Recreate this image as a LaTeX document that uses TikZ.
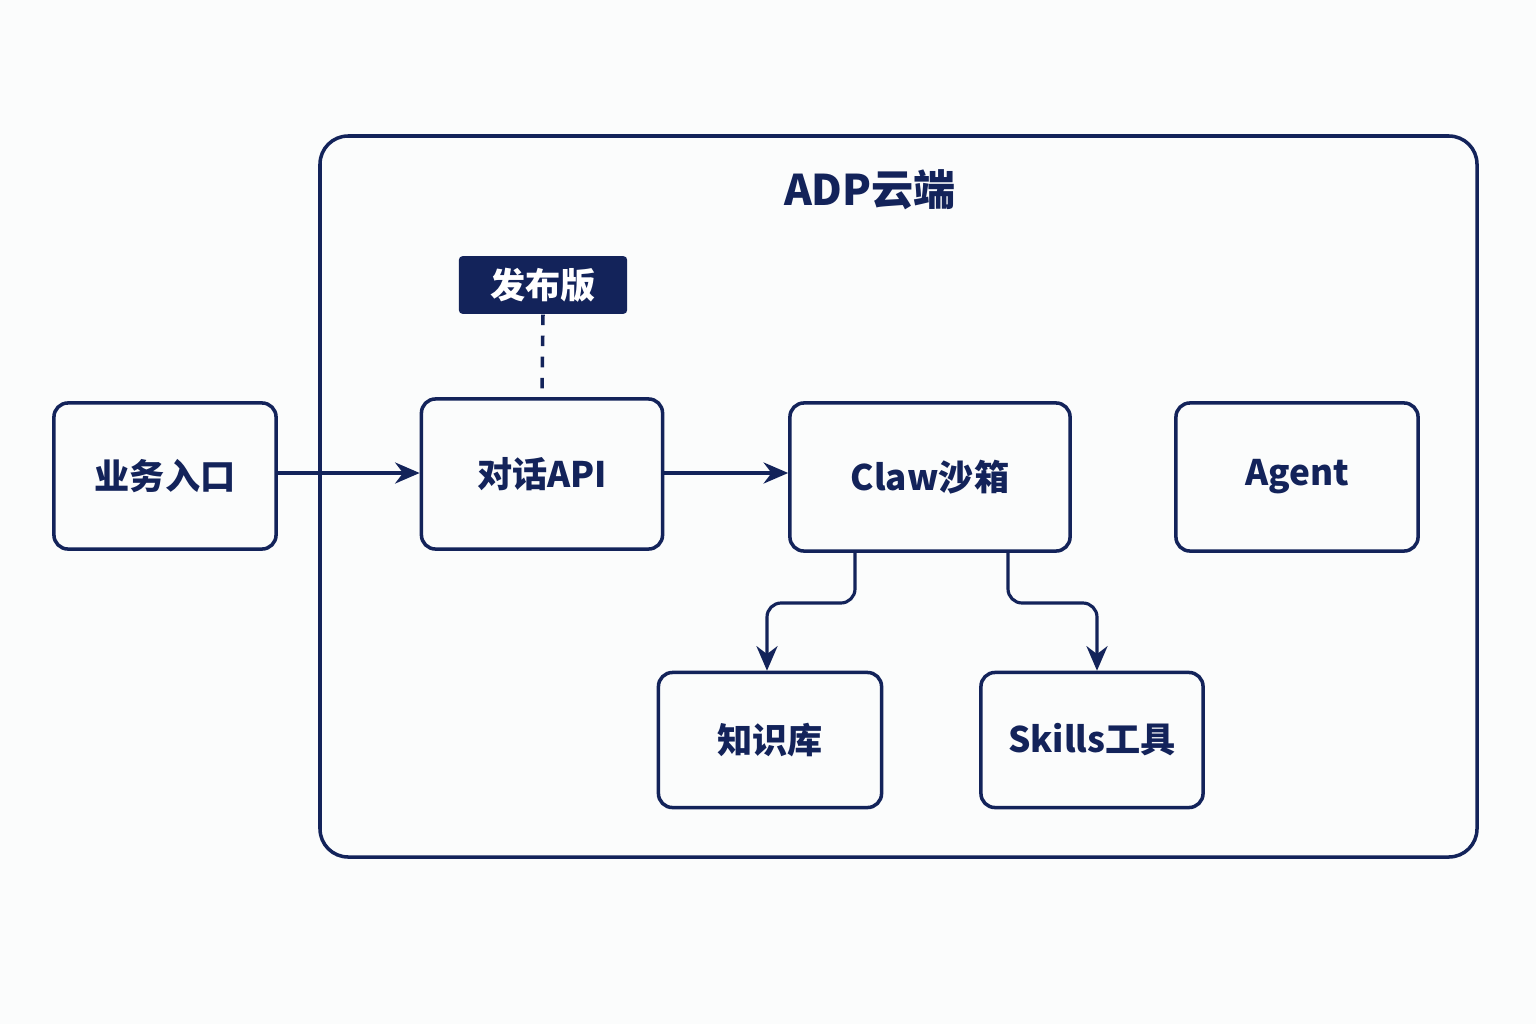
\documentclass[tikz,border=0pt]{standalone}
\usepackage{fontspec}
\setmainfont{Noto Sans CJK SC}
\usetikzlibrary{arrows.meta, positioning}
\definecolor{navy}{HTML}{13235A}

\begin{document}
\begin{tikzpicture}[x=0.01cm, y=-0.01cm]
      \tikzset{box/.style = {draw=navy, line width=1pt, rounded corners=4pt, text=navy, font=\fontsize{10pt}{12pt}\selectfont\bfseries, minimum height=1.46cm}}
      \tikzset{edge/.style = {draw=navy, line width=0.9pt, -{Stealth[length=7pt,width=6pt]}, rounded corners=4pt}}
      \fill[white!98.5!navy] (0,0) rectangle (1536,1024);
      \useasboundingbox (0,0) rectangle (1536,1024);

      \draw[draw=navy, line width=1pt, rounded corners=8pt] (320,136) rectangle (1477,857);
      \node[text=navy, font=\fontsize{12pt}{14pt}\selectfont\bfseries] (title) at (870,190) {ADP云端};

      \node[box, minimum width=2.22cm] (entry) at (165,476) {业务入口};
      \node[box, minimum width=2.41cm, minimum height=1.5cm] (api) at (542,474) {对话API};
      \node[box, minimum width=2.80cm, minimum height=1.48cm] (claw) at (930,477) {Claw沙箱};
      \node[box, minimum width=2.42cm, minimum height=1.48cm] (agent) at (1297,477) {Agent};
      \node[box, minimum width=2.23cm, minimum height=1.35cm] (kb) at (770,740) {知识库};
      \node[box, minimum width=2.22cm, minimum height=1.35cm] (skills) at (1092,740) {Skills工具};
      \node[fill=navy, rounded corners=1pt, text=white, font=\fontsize{10pt}{12pt}\selectfont\bfseries, minimum width=1.68cm, minimum height=0.56cm] (release) at (543,285) {发布版};

      \draw[draw=navy, line width=1pt, dashed] (release.south) -- (api.north);
      \draw[edge] (entry.east |- 0,473) -- (api.west |- 0,473);
      \draw[edge] (api.east |- 0,473) -- (claw.west |- 0,473);
      \draw[edge] (claw.south -| 855,0) -- (855,603) -- (767,603) -- (kb.north -| 767,0);
      \draw[edge] (claw.south -| 1008,0) -- (1008,603) -- (1097,603) -- (skills.north -| 1097,0);
\end{tikzpicture}
\end{document}
